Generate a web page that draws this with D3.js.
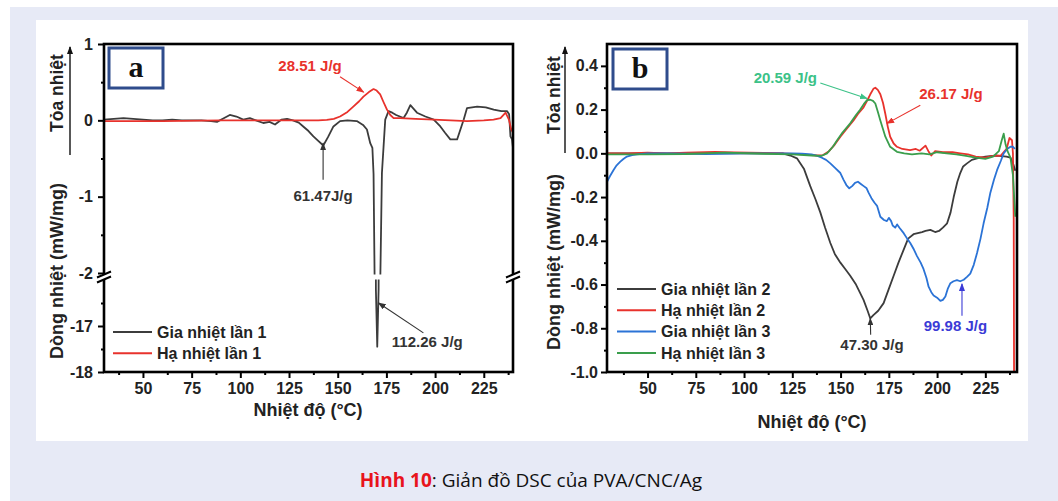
<!DOCTYPE html>
<html>
<head>
<meta charset="utf-8">
<script src="https://cdn.jsdelivr.net/npm/d3@7"></script>
<style>
  body { margin: 0; background: #fff; }
  svg { display: block; font-family: "Liberation Sans", Arial, sans-serif; }
</style>
</head>
<body>
<svg id="chart" width="1058" height="501"></svg>
<script>
// ---- data ----
const xTicks = [50, 75, 100, 125, 150, 175, 200, 225];
const xMinor = [37.5, 62.5, 87.5, 112.5, 137.5, 162.5, 187.5, 212.5, 237.5];

// panel a: broken y axis
const yTicksAUp = [1, 0, -1, -2];
const yMinorAUp = [0.5, -0.5, -1.5];
const yTicksALo = [-17, -18];
const yMinorALo = [-16.5, -17.5];

// panel b
const yTicksB = [0.4, 0.2, 0.0, -0.2, -0.4, -0.6, -0.8, -1.0];
const yMinorB = [0.3, 0.1, -0.1, -0.3, -0.5, -0.7, -0.9];

// [temperature °C, heat flow mW/mg]
const giaNhiet1 = [
  [30,0.01],[35,0.02],[40,0.03],[45,0.02],[50,0.01],[55,0],[60,0],[65,0.01],[70,0],[75,0],
  [80,0],[85,-0.01],[88,-0.02],[91,0.02],[94.6,0.07],[98,0.05],[101.5,0.01],[104.9,0.03],
  [108,0.0],[111.8,-0.035],[115,-0.02],[117.8,-0.055],[121.2,0.01],[124,0.02],[127,0.0],
  [130,-0.03],[132.3,-0.08],[135,-0.14],[137.5,-0.21],[140,-0.27],[142.6,-0.33],[145,-0.22],
  [147.8,-0.08],[151.2,-0.01],[155,0.0],[159.8,-0.01],[163,-0.06],[165,-0.12],[166.7,-0.3],
  [167.8,-0.36],[168.4,-0.7],[169,-2.2],[169.6,-16.2],[170.3,-17.45],[171,-16.2],[171.8,-2.2],
  [172.7,-0.69],[174.4,0.01],[176.1,0.12],[178,0.1],[180,0.07],[183.8,0.03],[185.5,0.1],
  [187.3,0.2],[190.7,0.1],[195,0.05],[199.3,0.01],[202.7,-0.08],[205,-0.16],[207.8,-0.25],
  [211.3,-0.25],[213,-0.12],[214.7,0.01],[216.4,0.16],[221.6,0.18],[226,0.17],[230.1,0.14],
  [234,0.12],[237,0.12],[238,0.08],[238.7,-0.21],[239.5,-0.25],[240,-0.36]
];
const haNhiet1 = [
  [30,-0.01],[60,-0.01],[90,0],[120,0],[140,0],[144.4,0.005],[148,0.02],[151.2,0.05],
  [155,0.11],[158,0.18],[161,0.25],[163.2,0.31],[166,0.37],[168.4,0.41],[170,0.39],
  [171.8,0.34],[173.5,0.24],[175.3,0.14],[177,0.07],[178.7,0.03],[182,0.03],[190,0.02],
  [199.3,0.01],[208,0.0],[216.4,-0.01],[225,0.0],[230,0.01],[233.6,0.03],[236.2,0.1],
  [237.9,0.01],[239.1,-0.12],[240,-0.16]
];

const giaNhiet2 = [
  [29,0],[40,0],[60,0],[80,0],[100,0],[115,0],[120,0],[124,-0.01],[127.4,-0.023],[131,-0.07],
  [134.3,-0.15],[137,-0.21],[139.5,-0.27],[142,-0.34],[144.7,-0.41],[147,-0.46],[149.9,-0.5],
  [152.5,-0.53],[155,-0.56],[158,-0.6],[161.9,-0.67],[164,-0.72],[165.4,-0.755],[167,-0.74],
  [169.5,-0.72],[172.3,-0.685],[175,-0.62],[177.5,-0.56],[180,-0.5],[182.7,-0.44],[185,-0.39],
  [187.8,-0.37],[190,-0.365],[192.2,-0.36],[194,-0.355],[196.5,-0.35],[199,-0.36],[201,-0.355],
  [203,-0.34],[205.2,-0.32],[207,-0.27],[208.6,-0.2],[210.5,-0.13],[212,-0.09],[213.5,-0.06],
  [215.5,-0.046],[218,-0.03],[220.7,-0.023],[225,-0.015],[231,-0.01],[236,-0.015],[238,-0.02],
  [239.5,-0.05],[240.5,-0.08]
];
const haNhiet2 = [
  [29,0],[40,0],[50,0.003],[60,0],[70,0.003],[85,0.007],[95,0.004],[110,0.002],[120,0],
  [130,-0.005],[138,-0.01],[141,-0.008],[144,0.01],[147,0.04],[149.9,0.076],[153,0.11],
  [156.7,0.15],[159,0.18],[161.9,0.21],[164,0.245],[165.4,0.27],[167,0.295],[168,0.3],
  [169.3,0.29],[170.6,0.27],[172,0.23],[173.2,0.18],[174.5,0.12],[175.7,0.076],[177.5,0.045],
  [179.2,0.03],[182,0.02],[186,0.015],[189,0.02],[191,0.012],[194,0.035],[195.5,0.01],
  [197,-0.01],[199,0.01],[203,0.005],[208,0.005],[212,0],[216,-0.005],[220,-0.015],[225,-0.02],
  [229,-0.012],[233,-0.01],[236,0.02],[237.5,0.07],[238.8,0.06],[239.3,0],[239.7,-0.3],[239.9,-1.1]
];
const giaNhiet3 = [
  [29,-0.13],[30.5,-0.105],[32.4,-0.076],[34,-0.055],[35.9,-0.038],[37.5,-0.026],[39.3,-0.015],
  [42,-0.008],[44.5,-0.005],[50,0],[60,0],[80,-0.003],[100,0],[115,0],[125,0],[130,-0.002],
  [135,-0.005],[138,-0.012],[140.3,-0.02],[142.5,-0.03],[144.7,-0.046],[147,-0.065],[149.9,-0.09],
  [151.5,-0.12],[153,-0.145],[154.5,-0.16],[156,-0.15],[157.5,-0.135],[159,-0.13],[160.5,-0.14],
  [162,-0.15],[163.5,-0.16],[164.5,-0.18],[166,-0.205],[167.5,-0.225],[168.9,-0.24],[170.6,-0.29],
  [172.5,-0.305],[174,-0.31],[175,-0.295],[176.2,-0.31],[177,-0.33],[178.3,-0.34],[179.3,-0.325],
  [180.5,-0.34],[182.7,-0.365],[184.5,-0.39],[186.1,-0.41],[188,-0.44],[189.6,-0.47],[191.5,-0.5],
  [193,-0.53],[194.5,-0.57],[195.6,-0.61],[197,-0.635],[198.2,-0.65],[200,-0.66],[201.7,-0.675],
  [203,-0.67],[204.3,-0.655],[205.5,-0.62],[206.9,-0.594],[208.5,-0.585],[210.3,-0.58],
  [212,-0.585],[213.8,-0.578],[215.5,-0.565],[217.2,-0.55],[219,-0.51],[220.7,-0.456],
  [222.5,-0.39],[224.1,-0.32],[226,-0.25],[227.6,-0.18],[229.5,-0.12],[231.1,-0.076],
  [233,-0.035],[234.5,0],[236.3,0.02],[238,0.03],[239.3,0.03],[240.3,0.02]
];
const haNhiet3 = [
  [29,-0.005],[50,-0.005],[70,-0.003],[90,0.003],[110,-0.002],[125,-0.005],[135,-0.01],
  [140,-0.012],[143,0],[146,0.03],[148.2,0.06],[151,0.095],[155,0.137],[158,0.175],[160.2,0.2],
  [162,0.225],[163.7,0.243],[165.4,0.245],[166.8,0.24],[168,0.228],[169.3,0.19],[170.6,0.15],
  [172,0.11],[173.2,0.076],[175.7,0.03],[179.2,0.007],[183,0],[187,-0.005],[192,0],[196,-0.005],
  [200,0.005],[205,0],[210,-0.005],[215,-0.012],[220,-0.02],[225,-0.025],[229,-0.015],[232,0.01],
  [233.5,0.06],[234.5,0.09],[235.5,0.04],[236.5,0.01],[238,-0.02],[239.3,-0.1],[240.5,-0.29]
];

const seriesA = [
  { name: 'Gia nhiệt lần 1', data: giaNhiet1, color: '#3c3c3c' },
  { name: 'Hạ nhiệt lần 1',  data: haNhiet1,  color: '#e8322c' }
];
const seriesB = [
  { name: 'Gia nhiệt lần 2', data: giaNhiet2, color: '#3c3c3c' },
  { name: 'Hạ nhiệt lần 2',  data: haNhiet2,  color: '#e8322c' },
  { name: 'Gia nhiệt lần 3', data: giaNhiet3, color: '#2b73d6' },
  { name: 'Hạ nhiệt lần 3',  data: haNhiet3,  color: '#3a9e4c' }
];

// annotations: text position and arrow from -> to, all in data units
const notesA = [
  { text: '28.51 J/g', color: '#e8322c', at: [135.8, 0.70], from: [151.2, 0.57], to: [163.3, 0.37] },
  { text: '61.47J/g', color: '#333', at: [142.5, -1.0], from: [142.5, -0.78], to: [142.5, -0.3] },
  { text: '112.26 J/g', color: '#333', at: [196, -17.37], from: [194, -17.15], to: [171, -16.5], low: true }
];
const notesB = [
  { text: '20.59 J/g', color: '#3cc288', at: [121.4, 0.342], from: [139.5, 0.322], to: [163.7, 0.251] },
  { text: '26.17 J/g', color: '#e8322c', at: [207.2, 0.266], from: [191.3, 0.22], to: [174.1, 0.137] },
  { text: '47.30 J/g', color: '#333', at: [166.3, -0.883], from: [165.6, -0.83], to: [165.4, -0.755] },
  { text: '99.98 J/g', color: '#3b3bd6', at: [209.5, -0.796], from: [212.9, -0.743], to: [212.9, -0.597] }
];

// ---- drawing ----
const svg = d3.select('#chart');
svg.append('rect').attr('x', 10).attr('y', 7).attr('width', 1048).attr('height', 494).attr('fill', '#e7eaf6');
svg.append('rect').attr('x', 36).attr('y', 20).attr('width', 992).attr('height', 421).attr('fill', '#fff');

const defs = svg.append('defs');
function marker(color) {
  const id = 'arr' + color.replace('#', '');
  if (defs.select('#' + id).empty()) {
    defs.append('marker').attr('id', id)
      .attr('viewBox', '0 0 8 6').attr('refX', 7).attr('refY', 3)
      .attr('markerWidth', 8).attr('markerHeight', 6).attr('markerUnits', 'userSpaceOnUse')
      .attr('orient', 'auto')
      .append('path').attr('d', 'M0,0L8,3L0,6Z').attr('fill', color);
  }
  return `url(#${id})`;
}

let clipN = 0;
function clip(x, y, w, h) {
  const id = 'clip' + (clipN++);
  defs.append('clipPath').attr('id', id).append('rect')
    .attr('x', x).attr('y', y).attr('width', w).attr('height', h);
  return `url(#${id})`;
}

function drawLines(g, series, x, y, clipUrl) {
  const line = d3.line().x(d => x(d[0])).y(d => y(d[1]));
  g.append('g').attr('clip-path', clipUrl)
    .selectAll('path').data(series).join('path')
    .attr('d', d => line(d.data))
    .attr('fill', 'none')
    .attr('stroke', d => d.color)
    .attr('stroke-width', 1.8)
    .attr('stroke-linejoin', 'round');
}

// plain hyphen for negatives, as in the figure
const fmtInt = d => String(d);
const fmt1 = d => d.toFixed(1);

function yAxis(g, y, ticks, minor, left, fmt, pad) {
  const a = g.append('g').attr('transform', `translate(${left},0)`);
  a.call(d3.axisLeft(y).tickValues(ticks).tickSize(6).tickPadding(pad).tickFormat(fmt));
  a.append('g').call(d3.axisLeft(y).tickValues(minor).tickSize(3).tickFormat(''));
  a.selectAll('.domain').remove();
  a.selectAll('line').attr('stroke', '#000').attr('stroke-width', 2);
  a.selectAll('text').attr('fill', '#222').attr('font-size', 16).attr('font-weight', 'bold');
}

function xAxis(g, x, bottom) {
  const a = g.append('g').attr('transform', `translate(0,${bottom})`);
  a.call(d3.axisBottom(x).tickValues(xTicks).tickSize(6).tickPadding(5).tickFormat(fmtInt));
  a.append('g').call(d3.axisBottom(x).tickValues(xMinor).tickSize(3).tickFormat(''));
  a.selectAll('.domain').remove();
  a.selectAll('line').attr('stroke', '#000').attr('stroke-width', 2);
  a.selectAll('text').attr('fill', '#222').attr('font-size', 16).attr('font-weight', 'bold');
}

function notes(g, list, x, yFor) {
  list.forEach(n => {
    const y = yFor(n);
    g.append('line')
      .attr('x1', x(n.from[0])).attr('y1', y(n.from[1]))
      .attr('x2', x(n.to[0])).attr('y2', y(n.to[1]))
      .attr('stroke', n.color).attr('stroke-width', 1.1)
      .attr('marker-end', marker(n.color));
    g.append('text')
      .attr('x', x(n.at[0])).attr('y', y(n.at[1]))
      .attr('text-anchor', 'middle').attr('dominant-baseline', 'middle')
      .attr('fill', n.color).attr('font-size', 15).attr('font-weight', 'bold')
      .text(n.text);
  });
}

function legend(g, series, x0, y0) {
  const rows = g.selectAll('g.leg').data(series).join('g')
    .attr('transform', (d, i) => `translate(${x0},${y0 + i * 21.3})`);
  rows.append('line').attr('x1', 0).attr('x2', 39)
    .attr('stroke', d => d.color).attr('stroke-width', 2);
  rows.append('text').attr('x', 44).attr('dy', '0.36em')
    .attr('font-size', 16).attr('font-weight', 'bold').attr('fill', '#222')
    .text(d => d.name);
}

function panelLabel(g, x, y, letter) {
  g.append('rect').attr('x', x).attr('y', y).attr('width', 54).attr('height', 40)
    .attr('fill', '#fff').attr('stroke', '#2f4c8c').attr('stroke-width', 3);
  g.append('text').attr('x', x + 27).attr('y', y + 29).attr('text-anchor', 'middle')
    .attr('font-family', '"Liberation Serif", "Times New Roman", serif')
    .attr('font-size', 30).attr('font-weight', 'bold').attr('fill', '#111')
    .text(letter);
}

function titles(g, xc, xBase, yBase, yc, yTop, arrowX, arrowY0) {
  g.append('text').attr('x', xc).attr('y', xBase).attr('text-anchor', 'middle')
    .attr('font-size', 18).attr('font-weight', 'bold').attr('fill', '#222')
    .text('Nhiệt độ (°C)');
  g.append('text').attr('transform', `translate(${yBase},${yc}) rotate(-90)`)
    .attr('text-anchor', 'middle').attr('font-size', 18).attr('font-weight', 'bold').attr('fill', '#222')
    .text('Dòng nhiệt (mW/mg)');
  g.append('text').attr('transform', `translate(${yBase},${yTop}) rotate(-90)`)
    .attr('text-anchor', 'middle').attr('font-size', 17.5).attr('font-weight', 'bold').attr('fill', '#222')
    .text('Tỏa nhiệt');
  g.append('line').attr('x1', arrowX).attr('x2', arrowX).attr('y1', arrowY0).attr('y2', 47)
    .attr('stroke', '#111').attr('stroke-width', 1.4).attr('marker-end', marker('#111'));
}

// ---------- panel a ----------
(function () {
  const L = 104, R = 513, T = 44, B = 372, brk = 277;
  const x = d3.scaleLinear().domain([30, 240]).range([L, R]);
  const yUp = d3.scaleLinear().domain([-2, 1]).range([273, T]);
  const yLo = d3.scaleLinear().domain([-18, -17]).range([B, 326]);
  const g = svg.append('g');

  drawLines(g, seriesA, x, yUp, clip(L, T, R - L, brk - 2.5 - T));
  drawLines(g, seriesA, x, yLo, clip(L, brk + 2.5, R - L, B - brk - 2.5));

  g.append('rect').attr('x', L).attr('y', T).attr('width', R - L).attr('height', B - T)
    .attr('fill', 'none').attr('stroke', '#000').attr('stroke-width', 2.6);
  yAxis(g, yUp, yTicksAUp, yMinorAUp, L, fmtInt, 5);
  yAxis(g, yLo, yTicksALo, yMinorALo, L, fmtInt, 5);
  xAxis(g, x, B);

  // axis break marks
  [L, R].forEach(xx => {
    g.append('rect').attr('x', xx - 3).attr('y', brk - 2.5).attr('width', 6).attr('height', 5).attr('fill', '#fff');
    [-2.5, 2.5].forEach(o => g.append('line')
      .attr('x1', xx - 7).attr('y1', brk + o + 3).attr('x2', xx + 7).attr('y2', brk + o - 3)
      .attr('stroke', '#000').attr('stroke-width', 2));
  });

  notes(g, notesA, x, n => n.low ? yLo : yUp);
  legend(g, seriesA, 113, 332);
  panelLabel(g, 109, 48, 'a');
  titles(g, 308, 416, 63, 271, 93, 70, 155);
})();

// ---------- panel b ----------
(function () {
  const L = 607, R = 1017, T = 44, B = 372;
  const x = d3.scaleLinear().domain([29, 241.4]).range([L, R]);
  const y = d3.scaleLinear().domain([-1.0, 0.5]).range([B, T]);
  const g = svg.append('g');

  drawLines(g, seriesB, x, y, clip(L, T, R - L, B - T));
  g.append('rect').attr('x', L).attr('y', T).attr('width', R - L).attr('height', B - T)
    .attr('fill', 'none').attr('stroke', '#000').attr('stroke-width', 2.6);
  yAxis(g, y, yTicksB, yMinorB, L, fmt1, 3);
  xAxis(g, x, B);

  notes(g, notesB, x, () => y);
  legend(g, seriesB, 617, 289);
  panelLabel(g, 613, 49, 'b');
  titles(g, 812, 428, 560, 262, 95, 565, 153);
})();

// caption
const cap = svg.append('text').attr('x', 531).attr('y', 487).attr('text-anchor', 'middle')
  .attr('font-family', '"Open Sans", "Noto Sans", sans-serif').attr('font-size', 19).attr('fill', '#111');
cap.append('tspan').attr('font-weight', 'bold').attr('fill', '#e8141c').text('Hình 10');
cap.append('tspan').text(': Giản đồ DSC của PVA/CNC/Ag');
</script>
</body>
</html>
